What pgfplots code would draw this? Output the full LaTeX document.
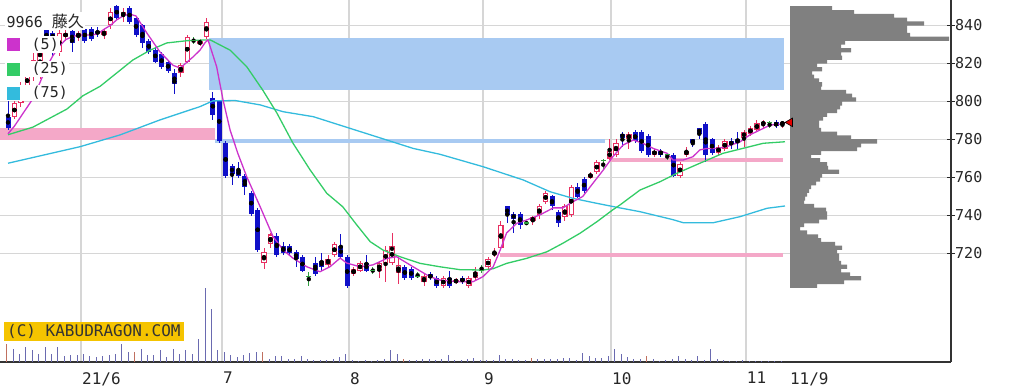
\documentclass[border=0pt]{standalone}
\usepackage{pgfplots}
\usepackage{pgfplotstable}
\pgfplotsset{compat=1.18}
\usepackage{fontspec}
\setmainfont{DejaVu Sans}
\newfontfamily\monofont{DejaVu Sans Mono}
\newfontfamily\jpfont{Noto Sans CJK JP}
\definecolor{cup}{HTML}{E83062}
\definecolor{cdn}{HTML}{1010C8}
\definecolor{cdoji}{HTML}{2E9E3E}
\definecolor{maf}{HTML}{CC33CC}
\definecolor{mam}{HTML}{33CC66}
\definecolor{mal}{HTML}{33BBDD}
\definecolor{pinkband}{HTML}{F4A8C8}
\definecolor{lblue}{HTML}{A8CAF2}
\definecolor{gridc}{HTML}{D6D6D6}
\definecolor{volc}{HTML}{6A6AB0}
\definecolor{volr}{HTML}{C07060}
\definecolor{profc}{HTML}{808080}
\definecolor{gold}{HTML}{F5C400}

\pgfplotstableread{
i o h l c
0 792 800 785 786
6 838 839 826 832
7 836 837 824 833
10 837 838 826 831
12 838 839 831 832
13 838 839 832 833
14 837 839 834 835.5
17 850 851 843 844
19 849 850 841 842
20 844 845 834 835
21 840 841 828 831
22 832 833 825 826
23 827 828 820 821
24 825 826 817 818
25 821 822 815 816
26 815 817 804 809
32 802 805 790 793
33 800 801 778 779
34 778 779 760 761
35 766 767 756 762
36 764 768 760 761
37 761 762 751 755
38 752 753 740 741
39 743 744 721 722
42 729 731 718 719
43 724 726 719 720
44 724 725 719 720
45 721 722 713 717
46 718 719 710 711
48 715 718 708 709
49 716 720 711 713
52 724 730 717 718
53 718 719 702 703
56 715 719 710 711
62 713 714 706 707
63 712 713 706 707
66 709 710 706 707
67 707 708 702 703
69 707 711 702 703
71 707 708 704 705
78 745 745 736 740
79 741 742 731 738
80 741 742 733 735
85 750 751 743 745
86 742 743 734 736
89 755 757 749 750
90 759 760 752 753
96 783 784 776 781
98 784 785 778 779
99 784 785 773 774
100 782 783 771 772
102 774 775 771 772
104 772 773 760 761
107 780 780 776 778
108 786 786 780 783
109 788 789 768 772
110 780 781 772 773
113 779 781 775 777
114 780 784 775 778
120 789 790 786 787
}\downtab

\pgfplotstableread{
i o h l c
1 792 800 791 799
2 799 810 797 808
3 808 816 806 814
4 813 826 811 822
5 821 830 812 828
8 826 838 824 836
9 834 838 832 836
11 834 837 832 836
15 835 838 833 837
16 840 849 838 847
18 845 849 842 847
27 815 820 813 819
28 821 835 820 834
30 830 833 829 832
31 834 844 833 842
40 715 723 712 721
41 725 731 723 730
50 714 719 713 717
51 719 726 718 725
54 709 713 708 712
55 711 716 710 715
58 711 716 707 715
59 715 724 705 722
60 715 731 714 724
61 710 718 704 714
65 705 709 703 708
68 703 708 702 707
70 705 707 704 706
72 703 708 702 707
73 707 713 706 710
75 713 718 712 717
76 719 723 718 721
77 723 737 722 735
82 737 740 735 739
83 740 746 738 745
84 747 753 746 752
87 739 746 737 745
88 740 756 739 755
91 760 763 759 762
92 763 769 762 768
94 770 780 769 774
95 772 780 771 778
97 780 784 775 783
101 772 775 771 774
105 761 768 760 767
106 772 776 771 774
111 773 777 772 776
112 775 780 774 779
115 781 785 776 784
116 783 787 782 786
117 785 790 784 788.5
118 788 790 786 789
121 788 789.5 786 789
}\uptab

\pgfplotstableread{
i p h l
29 832 834 830
47 708 710 703
57 711 713 709
64 708 710 707
74 711 714 710
81 736 737 735
93 769 769.5 764
103 772 773 769
119 789 789.5 786
}\dojitab

\pgfplotstableread{
i v
1 13
2 8
3 15
4 12
5 8
6 15
7 8
8 15
9 6
10 7
11 7
12 8
13 6
14 5
15 6
16 7
17 8
18 18
19 10
21 13
22 7
23 7
24 12
25 5
26 13
27 8
28 12
29 8
30 23
31 74
32 53
33 12
34 10
35 7
36 5
37 7
38 9
39 10
41 3.3
42 6
43 6
44 3.3
45 3.3
46 6
47 3.3
48 2.3
49 1.7
50 2.3
51 2.7
52 5
53 8.3
54 1.7
55 1
56 1.7
57 1
58 1.7
59 3.3
60 11.7
61 8.3
63 1.7
64 1.7
65 3.3
66 3.3
67 1.7
68 3.3
69 6.7
70 1.7
71 2.3
72 3.3
73 4
74 1.7
75 1.7
76 1.7
77 6.7
78 3.3
79 2.7
80 1.7
81 1.7
83 2.7
84 2.7
85 2.7
86 3.3
87 4.3
88 4.3
89 1.7
90 9.3
91 6
92 4.3
93 4.3
94 6
95 12.7
96 7.7
97 5.3
98 2.7
99 3.3
101 2.7
102 1
103 1.7
104 2.7
105 6
106 2.7
107 1.7
108 6
109 1.7
110 12.7
111 2.7
112 1.7
113 1
114 1
115 1.7
116 1
117 1
118 1
119 1
120 1
121 1
}\voltab

\pgfplotstableread{
i v
0 18
20 10
40 10
62 3.3
82 4.3
100 6
}\volredtab

\pgfplotstableread{
p w
703 27
705 54
707 71
709 60
711 51
713 57
715 51
717 49
719 49
721 47
723 52
725 45
727 31
729 28
731 17
733 10
735 14
737 29
739 37
741 37
743 36
745 24
747 14
749 15
751 17
753 19
755 21
757 26
759 30
761 32
763 49
765 38
767 37
769 30
771 21
773 31
775 67
777 71
779 87
781 61
783 47
785 31
787 29
789 29
791 33
793 37
795 47
797 50
799 52
801 66
803 62
805 56
807 31
809 32
811 29
813 24
815 22
817 32
819 27
821 37
823 52
825 51
827 61
829 51
831 55
833 159
835 120
837 117
839 117
841 134
843 117
845 104
847 64
849 42
}\proftab

\begin{document}
\begin{tikzpicture}
\useasboundingbox (0pt,-26pt) rectangle (1016pt,362pt);
% ---------- main price axis ----------
\begin{axis}[
  at={(0pt,0pt)}, anchor=south west,
  scale only axis, width=951pt, height=362pt,
  xmin=-1.25, xmax=147.34, ymin=662.9, ymax=853.4,
  axis x line*=bottom, axis y line*=right,
  axis line style={line width=1.3pt, black!80},
  xtick={11.41,33.44,53.28,74.22,94.22,115.27},
  xticklabels={21/6,7,8,9,10,11},
  extra x ticks={122.0}, extra x tick labels={11/9},
  extra x tick style={grid=none},
  xmajorgrids, ymajorgrids,
  grid style={gridc, line width=1.5pt},
  ytick={720,740,760,780,800,820,840},
  yticklabels={720,740,760,780,800,820,840},
  xtick style={draw=none},
  ytick style={black!85, line width=0.8pt},
  major tick length=8pt, tick align=center,
  /pgf/number format/assume math mode=true,
  xticklabel style={anchor=north west, inner sep=0pt, yshift=-6pt, xshift=1pt,
    font=\monofont\fontsize{16}{16}\selectfont, text=black!85},
  yticklabel style={anchor=west, inner sep=0pt,
    font=\monofont\fontsize{15}{15}\selectfont, text=black!85},
]
% bands
\addplot[draw=none, fill=pinkband] coordinates {(-1.25,779.9) (32.3,779.9) (32.3,786.3) (-1.25,786.3)} -- cycle;
\addplot[draw=none, fill=lblue] coordinates {(31.45,806.05) (121.25,806.05) (121.25,833.3) (31.45,833.3)} -- cycle;
\addplot[draw=none, fill=lblue] coordinates {(32.3,778.0) (93.3,778.0) (93.3,780.1) (32.3,780.1)} -- cycle;
\addplot[draw=none, fill=pinkband] coordinates {(94,767.9) (121.1,767.9) (121.1,770.2) (94,770.2)} -- cycle;
\addplot[draw=none, fill=pinkband] coordinates {(76.9,718.3) (121.1,718.3) (121.1,720.1) (76.9,720.1)} -- cycle;
% down candles
\addplot[only marks, mark=none, error bars/.cd, y dir=both, y explicit, error mark=none,
  error bar style={cdn, line width=1pt}]
  table[x=i, y expr={(\thisrow{h}+\thisrow{l})/2}, y error expr={(\thisrow{h}-\thisrow{l})/2}] {\downtab};
\addplot[only marks, mark=none, error bars/.cd, y dir=both, y explicit, error mark=none,
  error bar style={cdn, line width=5pt}]
  table[x=i, y expr={(\thisrow{o}+\thisrow{c})/2}, y error expr={(\thisrow{o}-\thisrow{c})/2}] {\downtab};
% up candles
\addplot[only marks, mark=none, error bars/.cd, y dir=both, y explicit, error mark=none,
  error bar style={cup, line width=1pt}]
  table[x=i, y expr={(\thisrow{h}+\thisrow{l})/2}, y error expr={(\thisrow{h}-\thisrow{l})/2}] {\uptab};
\addplot[only marks, mark=none, error bars/.cd, y dir=both, y explicit, error mark=none,
  error bar style={cup, line width=5.4pt}]
  table[x=i, y expr={(\thisrow{o}+\thisrow{c})/2}, y error expr={(\thisrow{c}-\thisrow{o})/2}] {\uptab};
\addplot[only marks, mark=none, error bars/.cd, y dir=both, y explicit, error mark=none,
  error bar style={white, line width=3.2pt}]
  table[x=i, y expr={(\thisrow{o}+\thisrow{c})/2}, y error expr={max((\thisrow{c}-\thisrow{o})/2-0.55,0)}] {\uptab};
% doji
\addplot[only marks, mark=none, error bars/.cd, y dir=both, y explicit, error mark=none,
  error bar style={cdoji, line width=1pt}]
  table[x=i, y expr={(\thisrow{h}+\thisrow{l})/2}, y error expr={(\thisrow{h}-\thisrow{l})/2}] {\dojitab};
\addplot[only marks, mark=-, mark size=2.6pt, mark options={cdoji, line width=1.2pt}]
  table[x=i, y=p] {\dojitab};
% moving averages
\addplot[mal, line width=1.3pt] coordinates {(0,767.5) (11.25,776.2) (17.5,782.4) (23.75,790.3) (30,797.3) (32,800.3) (35.5,800.5) (39.4,798.2) (43,794.6) (47.7,792) (53.4,785.9) (59.2,779.7) (63.3,775.3) (67.5,772.2) (74.2,765.7) (80.5,758.7) (84.7,752.5) (88.3,749) (92,746.4) (95.6,744) (98.75,742) (103.9,737.8) (105.5,736.2) (110.2,736.2) (114.4,739.4) (118.6,743.8) (121.4,745)};
\addplot[mam, line width=1.3pt] coordinates {(0,782.5) (3.9,786.5) (9.2,796) (11.7,803) (14.4,808) (19.5,821.8) (22.2,827) (24.8,830.8) (28,832) (31.1,832.4) (31.6,832.4) (34.7,827) (37.3,818.3) (39.8,806) (42,794) (44.5,778.2) (47.2,764) (49.8,751.7) (52.3,744.6) (54.5,735) (56.6,726.2) (58.6,721.8) (61.25,718.3) (64.4,714.8) (67.5,713) (70.6,711.5) (74.2,711.3) (75.8,712) (77.9,714.8) (81,717.4) (84.2,720.9) (86.7,725.4) (89.4,730.7) (92,736.7) (94.5,743) (95.6,745.5) (98.75,753.4) (101.9,757.8) (104.5,762.2) (108.1,767.5) (111.7,772.7) (114.8,775.3) (118,778) (121.4,778.8)};
\addplot[maf, line width=1.3pt] coordinates {(0,783) (1,787) (2,792) (3,797) (4,802) (5,810) (6,818) (7,824) (8,829) (9,832.5) (10,834) (11,835) (12,835) (13,835) (14,835.5) (15,838) (16,840) (17,843) (18,845) (19,846) (20,845) (21.7,836) (23.75,826) (25.8,819) (26.9,817.6) (28.9,823.4) (30,827) (30.8,831) (31.25,832.4) (32.6,818.3) (33.6,800.8) (34.7,785) (35.9,772.8) (37.3,760.4) (39.4,744.6) (41.4,729) (43,721.8) (44.5,717.6) (46.7,713) (48.75,710.4) (50.3,713) (51.9,717.6) (52.9,715) (55,713) (57,714) (59.2,717.4) (60.7,718.3) (63.3,713) (65.9,707.8) (67.5,706) (70,705.2) (72.7,705.2) (74.2,707.8) (75.8,713) (76.9,721.8) (77.9,730.8) (79.5,735.9) (81,737.6) (83.1,740.3) (85.2,744) (86.7,744) (88.3,747.3) (89.8,750) (91.4,757) (93,763.9) (94.5,770.9) (96.1,777.1) (97.7,779.7) (99.2,778) (100.8,775.3) (103,772.7) (103.9,769.2) (105.5,769.2) (107,770.9) (108.1,774.5) (109.2,775.3) (110.8,775.3) (112.3,776.2) (114.4,778.8) (115.9,782.4) (117.5,785) (119.1,787.6) (120.6,788) (121.4,788.5)};
\end{axis}
% ---------- volume axis ----------
\begin{axis}[
  at={(0pt,0pt)}, anchor=south west,
  scale only axis, width=951pt, height=362pt,
  xmin=-1.25, xmax=147.34, ymin=0, ymax=362,
  axis lines=none,
]
\addplot[ycomb, volc, line width=1pt] table[x expr={\thisrow{i}-0.2}, y=v] {\voltab};
\addplot[ycomb, volr, line width=1pt] table[x expr={\thisrow{i}-0.2}, y=v] {\volredtab};
\end{axis}
% ---------- volume profile axis ----------
\begin{axis}[
  at={(0pt,0pt)}, anchor=south west,
  scale only axis, width=951pt, height=362pt,
  xmin=-790, xmax=161, ymin=662.9, ymax=853.4,
  axis lines=none,
]
\addplot[xbar, bar width=2.25, bar shift=0pt, fill=profc, draw=none]
  table[x=w, y=p] {\proftab};
\addplot[only marks, mark=triangle*, mark size=5pt,
  mark options={rotate=90, fill=red!90!black, draw=black, line width=0.6pt}]
  coordinates {(0,789)};
\end{axis}
% ---------- legend and copyright ----------
\node[fill=white, inner sep=1.5pt, anchor=west, text=black!85] at (5pt,341pt)
  {\monofont\fontsize{15}{15}\selectfont 9966 {\jpfont\fontsize{16}{16}\selectfont 藤久}};
\node[fill=white, inner sep=1.5pt, anchor=west, text=black!85] at (5pt,317.5pt)
  {\textcolor{maf}{\rule[-2pt]{13pt}{13pt}}\hspace{12pt}{\monofont\fontsize{15}{15}\selectfont (5)}};
\node[fill=white, inner sep=1.5pt, anchor=west, text=black!85] at (5pt,293pt)
  {\textcolor{mam}{\rule[-2pt]{13pt}{13pt}}\hspace{12pt}{\monofont\fontsize{15}{15}\selectfont (25)}};
\node[fill=white, inner sep=1.5pt, anchor=west, text=black!85] at (5pt,269pt)
  {\textcolor{mal}{\rule[-2pt]{13pt}{13pt}}\hspace{12pt}{\monofont\fontsize{15}{15}\selectfont (75)}};
\node[fill=gold, inner xsep=3pt, inner ysep=2pt, anchor=west, text=black!80] at (4pt,30.5pt)
  {\monofont\fontsize{16}{16}\selectfont (C) KABUDRAGON.COM};
\end{tikzpicture}
\end{document}
